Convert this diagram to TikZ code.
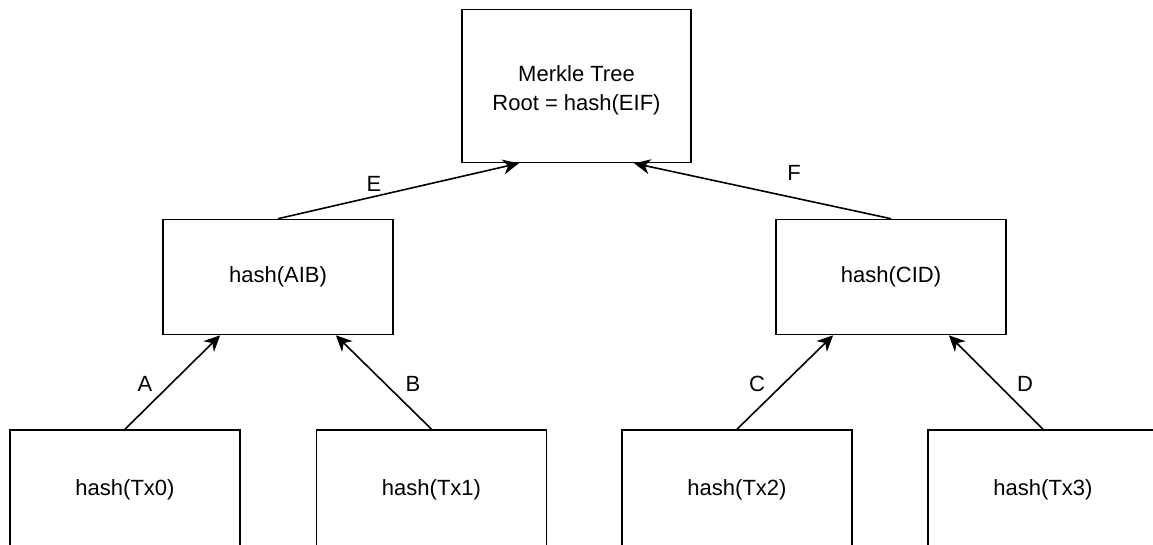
\documentclass[tikz,border=0pt]{standalone}
\usepackage{fontspec}
\setmainfont{Liberation Sans}
\usetikzlibrary{arrows.meta,calc}
\begin{document}
\begin{tikzpicture}[x=1pt,y=-1pt,
  box/.style={draw=black, line width=1.6pt, fill=white, inner sep=0pt,
    font=\fontsize{22}{29}\selectfont, align=center},
  link/.style={line width=1.6pt, -{Stealth[length=16pt,width=15pt,inset=5pt]}},
  lbl/.style={font=\fontsize{22}{26}\selectfont, inner sep=0pt}]
\useasboundingbox (0,0) rectangle (1153,544);
% root
\node[box, minimum width=229pt, minimum height=153pt] (root) at (576.5,86) {\\[-4pt]Merkle Tree\\Root = hash(EIF)};
% intermediate hashes
\node[box, minimum width=230pt, minimum height=115pt] (ab) at (278,277) {hash(AIB)};
\node[box, minimum width=230pt, minimum height=115pt] (cd) at (891,277) {hash(CID)};
% leaves (run past the lower edge)
\node[box, minimum width=230pt, minimum height=120pt] (t0) at (125,490) {hash(Tx0)};
\node[box, minimum width=230pt, minimum height=120pt] (t1) at (431.5,490) {hash(Tx1)};
\node[box, minimum width=230pt, minimum height=120pt] (t2) at (737,490) {hash(Tx2)};
\node[box, minimum width=230pt, minimum height=120pt] (t3) at (1043,490) {hash(Tx3)};
% connectors
\draw[link] (ab.north) -- ($(root.south west)!0.25!(root.south east)$) coordinate (eend);
\draw[link] (cd.north) -- ($(root.south west)!0.75!(root.south east)$) coordinate (fend);
\draw[link] (t0.north) -- ($(ab.south west)!0.25!(ab.south east)$);
\draw[link] (t1.north) -- ($(ab.south west)!0.75!(ab.south east)$);
\draw[link] (t2.north) -- ($(cd.south west)!0.25!(cd.south east)$);
\draw[link] (t3.north) -- ($(cd.south west)!0.75!(cd.south east)$);
% labels
\node[lbl] (le) at (374,184) {E};
\node[lbl] (lf) at (794,173) {F};
\node[lbl] (la) at (145,384) {A};
\node[lbl] (lb) at (413,384) {B};
\node[lbl] (lc) at (757,384) {C};
\node[lbl] (ld) at (1025,384) {D};
\end{tikzpicture}
\end{document}
